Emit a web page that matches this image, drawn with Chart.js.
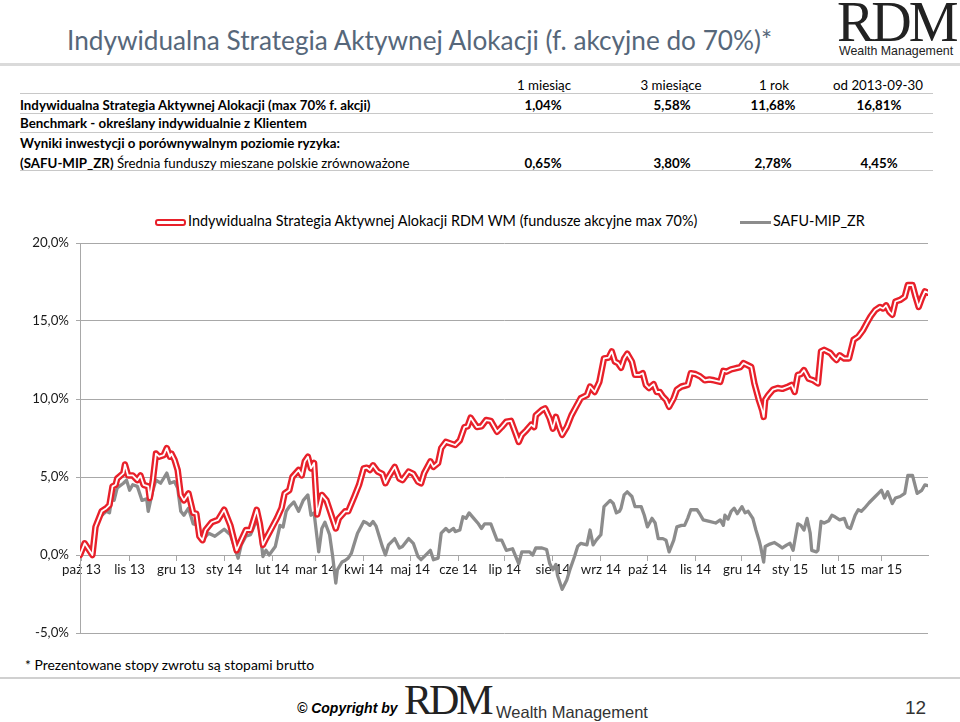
<!DOCTYPE html>
<html>
<head>
<meta charset="utf-8">
<script src="https://cdn.jsdelivr.net/npm/chart.js@4.4.1/dist/chart.umd.min.js"></script>
<style>
  body { margin: 0; width: 960px; height: 722px; position: relative; background: #fff; overflow: hidden; font-family: Lato, sans-serif; color: #000; }
  .t { position: absolute; white-space: nowrap; line-height: 16px; font-size: 13.3px; }
  .c { width: 120px; text-align: center; }
  .b { font-weight: bold; }
  .rule { position: absolute; height: 1px; background: #c8c8c8; }
</style>
</head>
<body>

<div class="t" style="left:67px;top:24px;font-size:26.2px;line-height:32px;color:#56677a;">Indywidualna Strategia Aktywnej Alokacji (f. akcyjne do 70%)*</div>
<div class="t" style="left:837px;top:-6px;font-family:'Liberation Serif',serif;font-size:56px;line-height:56px;letter-spacing:-3px;color:#222;">RDM</div>
<div class="t" style="left:839px;top:43px;font-family:'Liberation Sans',sans-serif;font-size:12.4px;color:#222;">Wealth Management</div>
<div style="position:absolute;left:0;top:63px;width:960px;height:3px;background:#dadada;"></div>

<!-- table -->
<div class="t c" style="left:484px;top:77px;">1 miesiąc</div>
<div class="t c" style="left:611px;top:77px;">3 miesiące</div>
<div class="t c" style="left:714px;top:77px;">1 rok</div>
<div class="t c" style="left:818px;top:77px;">od 2013-09-30</div>
<div class="rule" style="left:20px;top:93px;width:913px;"></div>

<div class="t b" style="left:20px;top:97px;">Indywidualna Strategia Aktywnej Alokacji (max 70% f. akcji)</div>
<div class="t c b" style="left:483px;top:97px;">1,04%</div>
<div class="t c b" style="left:612px;top:97px;">5,58%</div>
<div class="t c b" style="left:713px;top:97px;">11,68%</div>
<div class="t c b" style="left:819px;top:97px;">16,81%</div>
<div class="rule" style="left:20px;top:113px;width:913px;"></div>

<div class="t b" style="left:20px;top:115px;">Benchmark - określany indywidualnie z Klientem</div>
<div class="rule" style="left:20px;top:132px;width:913px;"></div>

<div class="t b" style="left:20px;top:135px;">Wyniki inwestycji o porównywalnym poziomie ryzyka:</div>
<div class="t" style="left:20px;top:155px;"><b>(SAFU-MIP_ZR)</b> Średnia funduszy mieszane polskie zrównoważone</div>
<div class="t c b" style="left:483px;top:155px;">0,65%</div>
<div class="t c b" style="left:612px;top:155px;">3,80%</div>
<div class="t c b" style="left:713px;top:155px;">2,78%</div>
<div class="t c b" style="left:819px;top:155px;">4,45%</div>
<div class="rule" style="left:20px;top:170px;width:913px;"></div>

<!-- legend -->
<div style="position:absolute;left:155px;top:219px;width:31px;height:7px;box-sizing:border-box;border:2px solid #e8202a;border-radius:3px;background:#fff;"></div>
<div class="t" style="left:188px;top:213px;font-size:14.4px;">Indywidualna Strategia Aktywnej Alokacji RDM WM (fundusze akcyjne max 70%)</div>
<div class="t" style="left:773px;top:213px;font-size:14.4px;">SAFU-MIP_ZR</div>
<div style="position:absolute;left:740px;top:221px;width:31px;height:3px;background:#8c8c8c;"></div>

<canvas id="chart" width="960" height="450" style="position:absolute;left:0;top:200px;"></canvas>

<div class="t" style="left:25px;top:657px;font-size:13.9px;">* Prezentowane stopy zwrotu są stopami brutto</div>
<div style="position:absolute;left:0;top:677px;width:960px;height:2px;background:#d0d0d0;"></div>

<div class="t" style="left:297px;top:700px;font-family:'Liberation Sans',sans-serif;font-size:14px;font-weight:bold;font-style:italic;">© Copyright by</div>
<div class="t" style="left:404px;top:679px;font-family:'Liberation Serif',serif;font-size:42px;line-height:42px;letter-spacing:-3px;color:#222;">RDM</div>
<div class="t" style="left:496px;top:702px;font-family:'Liberation Sans',sans-serif;font-size:16.5px;line-height:20px;color:#333;">Wealth Management</div>
<div class="t" style="left:905px;top:697px;font-family:'Liberation Sans',sans-serif;font-size:19px;line-height:22px;color:#333;">12</div>

<script>
// days counted from 2013-09-30, returns in %
const monthLabels = ["paź 13", "lis 13", "gru 13", "sty 14", "lut 14", "mar 14", "kwi 14", "maj 14", "cze 14",
  "lip 14", "sie 14", "wrz 14", "paź 14", "lis 14", "gru 14", "sty 15", "lut 15", "mar 15"];
const monthDays = [1, 32, 62, 93, 124, 152, 183, 213, 244, 274, 305, 336, 366, 397, 427, 458, 489, 517];
const yTicks = [-5, 0, 5, 10, 15, 20];

const strategyName = "Indywidualna Strategia Aktywnej Alokacji RDM WM (fundusze akcyjne max 70%)";
const benchName = "SAFU-MIP_ZR";

const stratDays = [
  0, 3, 8, 10, 14, 17, 19, 21, 23, 24, 28, 29,
  31, 34, 37, 39, 41, 44, 45, 47, 49, 51, 54, 56, 58, 59,
  61, 63, 65, 67, 70, 73, 75, 77, 79, 81, 85, 89,
  93, 97, 101, 104, 107, 110, 114, 116, 118, 120, 123,
  127, 130, 132, 135, 137, 141, 143, 145, 147, 149, 151,
  153, 156, 159, 161, 165, 167, 171, 173, 177, 180,
  183, 185, 187, 189, 192, 195, 197, 199, 203, 206, 208, 212,
  215, 218, 220, 222, 226, 228, 231, 233, 236, 239, 242,
  245, 248, 250, 252, 256, 259, 262, 265, 269, 272,
  275, 278, 281, 283, 285, 288, 291, 293, 294, 298, 300, 303,
  305, 307, 309, 311, 314, 317, 320, 323, 327, 329, 332, 335,
  338, 341, 343, 345, 347, 349, 351, 353, 356, 358, 361, 363,
  365, 367, 370, 372, 374, 376, 378, 380, 383, 385, 388, 390, 392, 394,
  397, 400, 403, 406, 409, 413, 415, 417, 420, 422, 426,
  428, 430, 433, 435, 438, 440, 441, 442, 444, 447, 450, 453, 457,
  459, 461, 463, 465, 467, 470, 473, 476, 478, 480, 484, 486, 488,
  490, 493, 496, 499, 502, 505, 508, 510, 513, 516,
  518, 520, 522, 524, 526, 529, 532, 534, 537, 539, 541, 543, 545, 547
];
const stratVals = [
  0, 0.75, 0, 1.8, 2.8, 3.0, 3.2, 4.4, 4.5, 4.9, 5.25, 5.8,
  5.1, 5.1, 4.8, 5.1, 4.5, 4.4, 3.65, 4.8, 6.5, 6.3, 6.4, 6.85, 6.3, 6.5,
  6.1, 5.45, 3.85, 3.5, 3.95, 2.7, 2.65, 1.2, 0.95, 1.6, 2.1, 2.25,
  2.9, 1.9, 0.3, 0.95, 1.6, 1.6, 2.9, 2.0, 0.65, 1.05, 1.6,
  2.35, 3.0, 3.95, 4.15, 5.0, 5.45, 5.1, 6.0, 6.3, 5.55, 5.9,
  2.6, 3.85, 3.5, 2.9, 1.7, 2.35, 2.8, 2.8, 3.75, 4.5,
  5.55, 5.6, 5.45, 5.75, 5.35, 5.2, 4.6, 5.0, 5.65, 4.9, 4.8, 5.35,
  5.2, 4.7, 4.6, 5.25, 6.0, 5.65, 5.9, 6.85, 7.25, 7.15, 7.05,
  7.35, 8.2, 8.25, 8.8, 8.2, 8.25, 8.65, 8.6, 7.9, 8.2,
  8.55, 8.6, 7.8, 7.25, 7.7, 8.0, 8.35, 8.2, 8.95, 9.3, 9.4, 8.75,
  8.1, 8.85, 8.2, 7.7, 8.2, 8.95, 9.5, 10.05, 10.25, 10.8, 10.45, 11.1,
  12.6, 12.65, 13.05, 12.4, 12.3, 12.0, 12.6, 12.9, 12.4, 11.55, 11.55, 11.65,
  10.9, 10.7, 10.95, 10.45, 10.45, 10.15, 9.95, 9.5, 10.05, 10.6, 10.8, 10.85, 10.9, 11.65,
  11.6, 11.45, 11.2, 11.25, 11.2, 11.1, 11.8, 11.75, 11.9, 11.95, 12.05,
  12.3, 12.2, 12.05, 11.0, 9.9, 9.3, 8.85, 9.95, 10.25, 10.6, 10.7, 10.65, 10.8,
  10.9, 10.45, 11.55, 11.6, 11.85, 11.3, 11.2, 11.0, 13.05, 13.15, 12.95, 12.7, 12.5,
  12.8, 12.6, 12.6, 13.8, 14.0, 14.4, 14.95, 15.3, 15.7, 15.9,
  15.8, 16.0, 15.6, 15.4, 16.25, 16.35, 16.55, 17.3, 17.3, 16.55, 15.9, 16.45, 16.9, 16.81
];

const safuDays = [
  0, 1, 3, 8, 10, 13, 17, 19, 21, 22, 24, 28, 30,
  32, 34, 37, 40, 43, 44, 47, 49, 52, 56, 58,
  61, 63, 65, 67, 70, 73, 75, 77, 79, 83, 87,
  93, 97, 102, 104, 107, 110, 114, 116, 118, 120, 122,
  126, 129, 131, 133, 135, 138, 141, 144, 147, 149, 151,
  154, 156, 158, 161, 163, 165, 166, 169, 171, 173, 175, 177, 179,
  183, 185, 187, 189, 191, 193, 195, 197, 199, 203, 206, 208, 212,
  215, 218, 220, 222, 226, 228, 231, 233, 236, 238, 241, 242,
  245, 247, 249, 251, 254, 257, 259, 261, 265, 269, 272,
  275, 279, 283, 285, 288, 290, 292, 294, 298, 301, 303,
  305, 307, 308, 311, 314, 316, 319, 321, 323, 327, 329, 331, 333,
  336, 338, 342, 344, 346, 348, 349, 351, 353, 356, 358, 362, 364,
  366, 369, 371, 373, 376, 378, 380, 383, 385, 388, 390, 392, 394,
  398, 400, 402, 406, 410, 413, 415, 416, 418, 420, 422, 424,
  427, 429, 431, 434, 436, 438, 439, 441, 442, 445, 448, 451, 453, 456,
  458, 460, 463, 465, 467, 469, 471, 472, 475, 476, 478, 480, 483, 485, 487,
  490, 493, 495, 497, 500, 502, 504, 506, 509, 513, 515,
  517, 519, 521, 524, 526, 529, 532, 534, 537, 540, 543, 545, 547
];
const safuVals = [
  0, 0.3, 0.6, -0.05, 1.6, 2.45, 2.8, 2.7, 4.0, 3.5, 4.3, 4.6, 4.8,
  4.15, 4.5, 4.4, 3.5, 3.6, 2.8, 4.15, 4.8, 4.6, 5.25, 4.6,
  4.7, 4.3, 2.8, 2.55, 3.0, 2.0, 1.95, 1.2, 0.95, 1.4, 1.2,
  1.65, 1.3, -0.2, 0.65, 1.2, 1.3, 2.25, 1.6, -0.1, 0.3, 0.0,
  0.55, 1.9, 1.8, 2.8, 3.1, 3.4, 2.8, 3.5, 3.85, 2.55, 2.7,
  0.2, 1.7, 2.1, 1.3, -0.1, -1.8, -0.95, -0.45, -0.35, -0.2, 0.1, 0.75, 1.4,
  2.15, 2.05, 1.9, 2.15, 1.85, 1.2, 0.55, 0.0, 0.65, 1.05, 0.45, 0.55, 1.05,
  0.75, -0.1, -0.3, -0.1, 0.3, -0.3, -0.2, 1.4, 1.7, 1.5, 1.7, 1.5,
  1.6, 2.45, 2.35, 2.7, 2.35, 2.0, 1.7, 2.0, 2.0, 0.95, 0.95,
  0.3, 0.4, -0.55, 0.2, 0.2, 0.2, 0.0, 0.45, 0.45, 0.35, -0.55,
  -0.95, -0.6, -1.3, -2.2, -1.6, -0.95, -0.1, 0.55, 0.75, 0.65, 1.6, 0.65, 0.95,
  1.3, 3.1, 3.5, 3.3, 2.7, 2.8, 3.0, 3.85, 4.05, 3.75, 3.1, 3.1, 2.55,
  1.8, 2.35, 2.05, 1.05, 1.05, 0.95, 0.2, 0.95, 1.8, 1.9, 1.9, 2.35, 2.9,
  2.9, 2.6, 2.25, 2.15, 2.05, 2.25, 1.9, 2.55, 2.3, 2.8, 3.0, 2.65,
  3.1, 2.7, 2.8, 2.35, 1.6, 0.95, 0.55, -0.45, 0.55, 0.7, 0.8, 0.6, 0.45, 0.65,
  0.75, 0.3, 2.0, 1.9, 1.6, 2.35, 1.4, 0.3, 0.2, 0.3, 2.15, 2.05, 2.2, 2.55, 2.45,
  2.25, 2.35, 1.8, 1.7, 2.55, 2.9, 2.8, 3.0, 3.35, 3.75, 3.95,
  4.15, 3.65, 4.05, 3.3, 3.65, 3.75, 3.95, 5.1, 5.1, 3.95, 4.15, 4.5, 4.45
];

const points = (xs, ys) => xs.map((x, i) => ({ x: x, y: ys[i] }));
const axisFont = { family: "Lato", size: 13.3 };
const gridColor = "#a8a8a8";

new Chart(document.getElementById("chart"), {
  type: "line",
  data: {
    datasets: [
      { label: strategyName, data: points(stratDays, stratVals), borderColor: "#ffffff", borderWidth: 1.8, order: 0 },
      { label: strategyName, data: points(stratDays, stratVals), borderColor: "#e8202a", borderWidth: 6.5, order: 1 },
      { label: benchName, data: points(safuDays, safuVals), borderColor: "#8c8c8c", borderWidth: 3.3, order: 2 }
    ]
  },
  options: {
    responsive: false,
    animation: false,
    layout: { padding: { left: 0, right: 32, top: 43, bottom: 17 } },
    elements: {
      point: { radius: 0 },
      line: { tension: 0, borderJoinStyle: "round", borderCapStyle: "round" }
    },
    plugins: { legend: { display: false }, tooltip: { enabled: false } },
    scales: {
      x: {
        type: "linear",
        min: 0,
        max: 547,
        position: { y: 0 },
        afterBuildTicks: s => { s.ticks = monthDays.map(v => ({ value: v })); },
        afterFit: s => { s.height = 0; },
        grid: { drawOnChartArea: false, tickLength: 5, color: gridColor },
        border: { color: gridColor },
        ticks: { autoSkip: false, maxRotation: 0, padding: 2, color: "#1a1a1a", font: axisFont,
                 callback: (v, i) => monthLabels[i] }
      },
      y: {
        min: -5,
        max: 20,
        afterBuildTicks: s => { s.ticks = yTicks.map(v => ({ value: v })); },
        afterFit: s => { s.width = 80; },
        grid: { color: gridColor, tickLength: 4 },
        border: { color: gridColor },
        ticks: { padding: 7, color: "#1a1a1a", font: axisFont,
                 callback: v => v.toFixed(1).replace(".", ",") + "%" }
      }
    }
  }
});
</script>
</body>
</html>
